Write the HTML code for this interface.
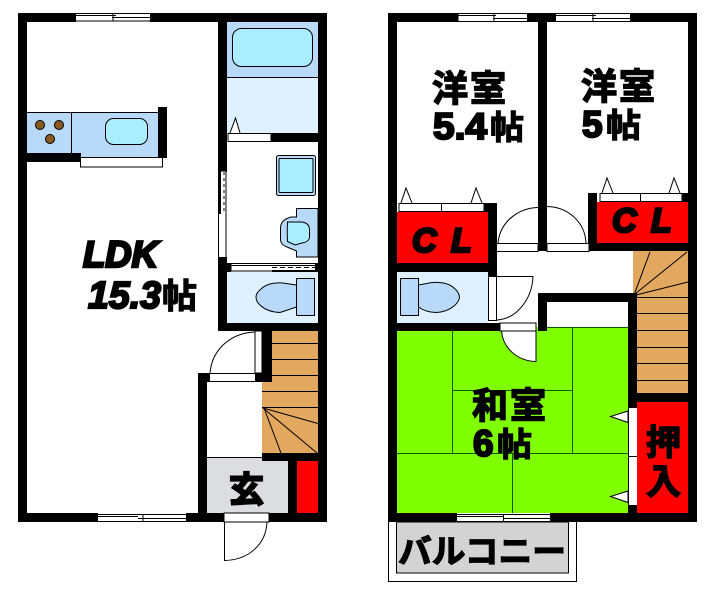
<!DOCTYPE html>
<html><head><meta charset="utf-8"><style>
html,body{margin:0;padding:0;background:#fff}
svg{display:block}
text{font-family:"Liberation Sans","Noto Sans CJK JP",sans-serif;font-weight:bold;fill:#000;stroke:#000}
</style></head><body>
<svg width="724" height="598" viewBox="0 0 724 598" xmlns="http://www.w3.org/2000/svg">
<rect width="724" height="598" fill="#fff"/>
<!-- LEFT PLAN fills -->
<rect x="227" y="22" width="91" height="55" fill="#b9d9f9"/>
<rect x="227" y="77" width="91" height="56" fill="#dff0ff"/>
<rect x="227" y="272" width="91" height="51" fill="#dff0ff"/>
<rect x="272" y="331" width="46" height="52" fill="#e2a85f"/>
<rect x="262" y="381" width="56" height="73" fill="#e2a85f"/>
<rect x="207" y="457" width="81" height="56" fill="#dcdde0"/>
<rect x="297" y="461" width="21" height="52" fill="#f00"/>
<rect x="27" y="112" width="131" height="41" fill="#b9d9f9"/>
<rect x="81" y="153" width="77" height="5" fill="#b9d9f9"/>
<!-- left walls -->
<g fill="#000">
<rect x="18" y="13" width="309" height="9"/>
<rect x="18" y="513" width="309" height="9"/>
<rect x="18" y="13" width="9" height="509"/>
<rect x="318" y="13" width="9" height="509"/>
<rect x="218" y="22" width="9" height="150"/>
<rect x="218" y="171" width="3" height="43"/>
<rect x="218" y="257" width="9" height="74"/>
<rect x="227" y="263" width="4" height="9"/>
<rect x="218" y="323" width="100" height="8"/>
<rect x="271" y="133" width="47" height="9"/>
<rect x="158" y="107" width="9" height="51"/>
<rect x="27" y="153" width="54" height="9"/>
<rect x="262" y="331" width="10" height="51"/>
<rect x="255" y="373" width="8" height="9"/>
<rect x="198" y="373" width="9" height="140"/>
<rect x="198" y="373" width="11" height="9"/>
<rect x="262" y="453" width="56" height="8"/>
<rect x="288" y="453" width="9" height="60"/>
<rect x="272" y="270" width="43" height="2"/>
<rect x="315" y="263" width="3" height="9"/>
</g>
<g fill="none" stroke="#000" stroke-width="1">
<!-- bath -->
<line x1="227" y1="77.5" x2="318" y2="77.5"/>
<rect x="232.5" y="28.5" width="80" height="38" rx="9" fill="#a9edff"/>
<path d="M230 133L235.500 118L240 133" fill="#fff"/>
<rect x="228" y="133.500" width="43" height="8" fill="#fff"/>
<!-- kitchen -->
<line x1="27" y1="112.500" x2="158" y2="112.500"/>
<line x1="71.500" y1="112" x2="71.500" y2="153"/>
<rect x="105.500" y="118.500" width="42" height="26" rx="8" fill="#a9edff"/>
<rect x="80.500" y="157.500" width="82" height="9.500" fill="#fff"/>
<circle cx="40" cy="125" r="4.500" fill="#8b5a20"/>
<circle cx="59" cy="125" r="4.500" fill="#8b5a20"/>
<circle cx="50" cy="139" r="4.500" fill="#8b5a20"/>
<!-- wash basin -->
<rect x="276.500" y="155.500" width="39" height="40" rx="2" fill="#b9d9f9"/>
<rect x="279" y="158.500" width="34" height="34" rx="1" fill="#a9edff"/>
<!-- wash toilet-like unit -->
<path d="M318 208.500H296.500V217H291Q280.500 220 280.500 228V240Q281 245 287 247L296.500 251V257H318Z" fill="#b9d9f9"/>
<path d="M287.500 222H302Q309.500 223 309.500 230V237Q309 242 302 243L295 245L287.500 241.500Q287 233 287.500 222Z" fill="#a9edff"/>
<!-- side sliding door -->
<rect x="219.500" y="171.500" width="6.500" height="85" fill="#fff" stroke="none"/>
<rect x="218" y="171" width="3" height="43" fill="#000" stroke="none"/>
<line x1="218.500" y1="214" x2="218.500" y2="257"/>
<line x1="226" y1="171" x2="226" y2="257"/>
<line x1="224" y1="172" x2="224" y2="214" stroke-dasharray="3 3"/>
<!-- WC door -->
<line x1="231" y1="263.500" x2="315" y2="263.500"/>
<line x1="231" y1="265.500" x2="315" y2="265.500"/>
<line x1="231" y1="271" x2="272" y2="271"/>
<line x1="272" y1="267.500" x2="315" y2="267.500" stroke-dasharray="5 3"/>
<line x1="231" y1="264" x2="231" y2="271"/>
<!-- toilet -->
<path d="M296.500 285L283 283Q268 282 261 289Q256 293 256 297Q256 302 261 306Q268 312 280 312.500L296.500 307Z" fill="#b9d9f9"/>
<rect x="296.500" y="278.500" width="18" height="37" fill="#b9d9f9"/>
<!-- stair treads -->
<path d="M272 343.500H318M272 359.500H318M272 375.500H318M262 391.500H318M262 407.500H318M263 408L318 423.500M263 408L317 453M264 408L281 453"/>
<!-- LDK door -->
<rect x="209.500" y="373.500" width="46" height="8" fill="#fff"/>
<path d="M210 373C212 350 230 333 255 332"/>
<rect x="255" y="331" width="7" height="42" fill="#fff"/>
<line x1="207" y1="457.500" x2="288" y2="457.500"/>
<!-- windows -->
<rect x="76" y="13" width="74" height="9" fill="#fff" stroke="none"/>
<path d="M76 15.500H116M112 17.500H150M76 13.500H150M112 21H150M76 21H112M113 14V21"/>
<rect x="98" y="513" width="88" height="9" fill="#fff" stroke="none"/>
<path d="M98 514.500H186M98 516.500H138M138 518.500H186M98 521.500H186M143 514V522"/>
<!-- entry door -->
<rect x="224" y="513" width="45" height="9" fill="#fff"/>
<path d="M224.500 522V560.500C248 560 266 545 267 522"/>
</g>
<text x="83" y="267" font-size="37" font-style="italic" stroke-width="2.600" textLength="75" lengthAdjust="spacingAndGlyphs">LDK</text>
<text x="88" y="308" font-size="38" font-style="italic" stroke-width="2.200" textLength="73" lengthAdjust="spacingAndGlyphs">15.3</text>
<text x="162" y="308" font-size="34" stroke-width="1.200" textLength="35" lengthAdjust="spacingAndGlyphs">帖</text>
<text x="229" y="502" font-size="35" stroke-width="2">玄</text>

<!-- RIGHT PLAN fills -->
<rect x="397" y="212" width="91" height="51" fill="#f00"/>
<rect x="597" y="202" width="91" height="41" fill="#f00"/>
<rect x="397" y="272" width="91" height="51" fill="#dff0ff"/>
<rect x="633" y="251" width="55" height="47" fill="#e2a85f"/>
<rect x="637" y="295" width="51" height="98" fill="#e2a85f"/>
<rect x="397" y="331" width="231" height="182" fill="#80ff00"/>
<rect x="536" y="327" width="92" height="6" fill="#80ff00"/>
<rect x="637" y="402" width="51" height="111" fill="#f00"/>
<rect x="396" y="522" width="172" height="51" fill="#d3d3d3"/>
<!-- right walls -->
<g fill="#000">
<rect x="388" y="13" width="309" height="9"/>
<rect x="388" y="513" width="309" height="9"/>
<rect x="388" y="13" width="9" height="509"/>
<rect x="688" y="13" width="9" height="509"/>
<rect x="538" y="22" width="9" height="229"/>
<rect x="484" y="203" width="13" height="9"/>
<rect x="488" y="203" width="9" height="73"/>
<rect x="397" y="263" width="100" height="9"/>
<rect x="588" y="193" width="9" height="58"/>
<rect x="588" y="243" width="100" height="8"/>
<rect x="682" y="193" width="6" height="9"/>
<rect x="538" y="293" width="99" height="9"/>
<rect x="538" y="293" width="9" height="38"/>
<rect x="628" y="293" width="9" height="115"/>
<rect x="637" y="393" width="51" height="9"/>
<rect x="628" y="505" width="9" height="8"/>
<rect x="397" y="323" width="103" height="8"/>
</g>
<g fill="none" stroke="#000" stroke-width="1">
<!-- closets doors -->
<path d="M401 203L406 188L412 203" fill="#fff"/>
<path d="M471 203L476 188L482 203" fill="#fff"/>
<rect x="399" y="203.500" width="85" height="8" fill="#fff"/>
<line x1="441.500" y1="204" x2="441.500" y2="211"/>
<path d="M602 193L607 178L613 193" fill="#fff"/>
<path d="M669 193L674 178L680 193" fill="#fff"/>
<rect x="600" y="193.500" width="82" height="8" fill="#fff"/>
<line x1="640.500" y1="194" x2="640.500" y2="201"/>
<!-- room doors -->
<rect x="496.500" y="243.500" width="41.500" height="8" fill="#fff"/>
<path d="M498 243C500 222 518 208 538 207.500"/>
<rect x="547" y="243.500" width="42" height="8" fill="#fff"/>
<path d="M547 206.500C568 207 585 222 586 243"/>
<!-- upper stairs -->
<path d="M634 295L650 252M635 294L687 252M636 295L688 282M637 297.500H688M637 313.500H688M637 330.500H688M637 347.500H688M637 363.500H688M637 380.500H688"/>
<!-- toilet R -->
<rect x="400.500" y="278.500" width="18" height="37" fill="#b9d9f9"/>
<path d="M418.500 285L432 282.500Q447 281.500 454 288Q459 292 459.500 297Q459 302 454 306Q447 312 436 312.500Q425 312 418.500 307Z" fill="#b9d9f9"/>
<!-- WC door R -->
<rect x="488.500" y="276.500" width="8" height="44" fill="#fff"/>
<path d="M497 276.500H533C532 300 516 319 497 320"/>
<!-- tatami -->
<g stroke="#0a5a0a">
<path d="M452.500 331V453M572.500 327V453M452 390.500H572M397 453.500H628M512.500 453V513M547 327.500H628"/>
</g>
<!-- WR door -->
<rect x="500" y="323" width="36" height="8" fill="#fff"/>
<path d="M501.500 331C503 348 517 361 536 361.500V331Z" fill="#fff"/>
<!-- oshiire doors -->
<rect x="629" y="408" width="7.500" height="97" fill="#fff" stroke="none"/>
<line x1="628.500" y1="408" x2="628.500" y2="505"/>
<line x1="629" y1="456.500" x2="637" y2="456.500"/>
<path d="M628 411L610.500 416.500L628 422.500Z" fill="#fff"/>
<path d="M628 491L610.500 496.500L628 502.500Z" fill="#fff"/>
<!-- windows -->
<rect x="458.500" y="13" width="68.500" height="9" fill="#fff" stroke="none"/>
<path d="M458 13.500H527M458 15.500H496M493 18.500H527M458 21.500H527M494 14V21"/>
<rect x="556" y="13" width="74" height="9" fill="#fff" stroke="none"/>
<path d="M556 13.500H630M556 15.500H596M592 18.500H630M556 21.500H630M593 14V21"/>
<rect x="457" y="513" width="93" height="9" fill="#fff" stroke="none"/>
<path d="M457 514.500H550M457 516.500H503M503 518.500H550M457 521.500H550M503.500 514V522"/>
<!-- balcony -->
<path d="M388.500 522V581.500H576.500V522"/>
<rect x="396.500" y="522" width="172" height="51"/>
</g>
<text x="432" y="101" font-size="36" stroke-width="1.500" textLength="74" lengthAdjust="spacing">洋室</text>
<text x="433" y="139" font-size="37" stroke-width="2.200" textLength="54" lengthAdjust="spacingAndGlyphs">5.4</text>
<text x="490" y="139" font-size="33" stroke-width="1.200" textLength="34" lengthAdjust="spacingAndGlyphs">帖</text>
<text x="581" y="99" font-size="36" stroke-width="1.500" textLength="74" lengthAdjust="spacing">洋室</text>
<text x="582" y="137" font-size="37" stroke-width="2.200">5</text>
<text x="606" y="137" font-size="33" stroke-width="1.200" textLength="35" lengthAdjust="spacingAndGlyphs">帖</text>
<text x="412" y="252" font-size="34" font-style="italic" stroke-width="2.600">C</text>
<text x="451" y="252" font-size="34" font-style="italic" stroke-width="2.600">L</text>
<text x="612" y="232" font-size="34" font-style="italic" stroke-width="2.600">C</text>
<text x="651" y="232" font-size="34" font-style="italic" stroke-width="2.600">L</text>
<text x="472" y="418" font-size="36" stroke-width="1.500" textLength="74" lengthAdjust="spacing">和室</text>
<text x="473" y="456" font-size="37" stroke-width="2.200">6</text>
<text x="497" y="456" font-size="33" stroke-width="1.200" textLength="35" lengthAdjust="spacingAndGlyphs">帖</text>
<text x="646" y="455" font-size="35" stroke-width="1.500">押</text>
<text x="646" y="494" font-size="35" stroke-width="1.500">入</text>
<text x="398" y="563" font-size="33" stroke-width="1.200" textLength="168" lengthAdjust="spacingAndGlyphs">バルコニー</text>
</svg>
</body></html>
